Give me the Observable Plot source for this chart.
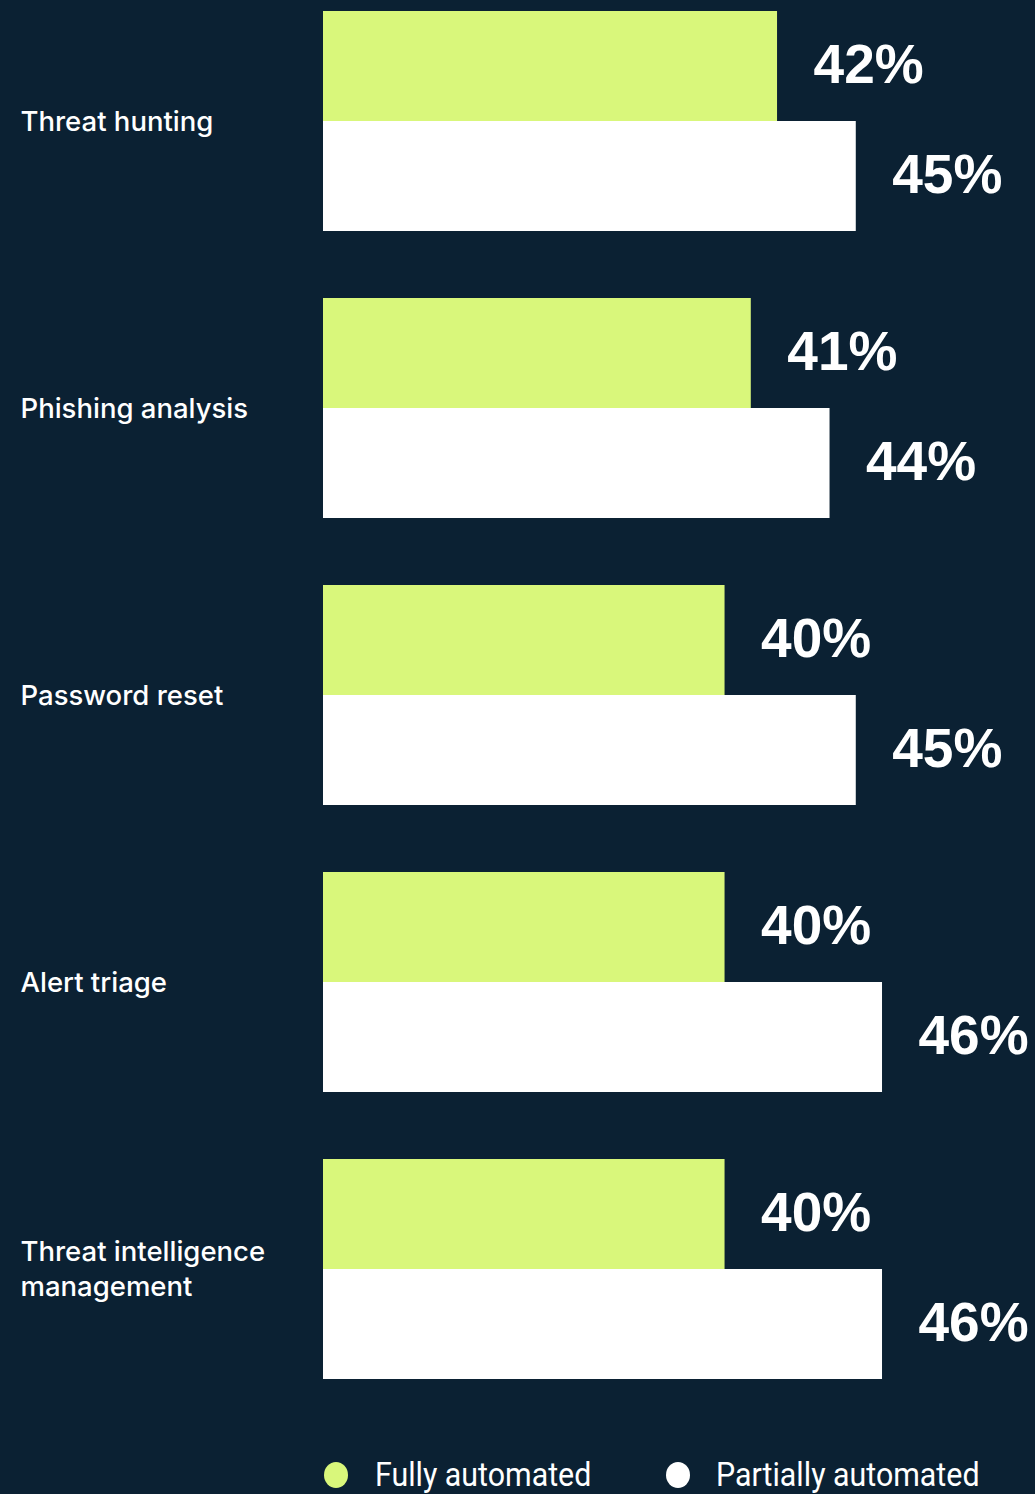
<!DOCTYPE html>
<html>
<head>
<meta charset="utf-8">
<script src="https://cdn.jsdelivr.net/npm/d3@7"></script>
<script src="https://cdn.jsdelivr.net/npm/@observablehq/plot@0.6"></script>
<style>
  html, body { margin: 0; padding: 0; background: #0b2133; }
  #wrap { width: 1035px; position: relative; }
  #legend { position: relative; height: 54px; width: 1035px; overflow: hidden; }
  .sw { position: absolute; width: 24px; height: 26px; border-radius: 50%; top: 22px; }
  .lab { position: absolute; top: 15px; color: #fff; font-family: "Roboto", sans-serif; font-size: 33px; line-height: 40px; white-space: nowrap; transform: scaleX(0.92); transform-origin: left center; }
</style>
</head>
<body>
<div id="wrap"></div>
<script>
const categories = ["Threat hunting", "Phishing analysis", "Password reset", "Alert triage", "Threat intelligence\nmanagement"];
const series = ["Fully automated", "Partially automated"];
const fullyAutomated = [42, 41, 40, 40, 40];
const partiallyAutomated = [45, 44, 45, 46, 46];
const seriesColors = ["#d9f77b", "#ffffff"];

const rows = [];
categories.forEach((c, i) => {
  rows.push({category: c, series: series[0], value: fullyAutomated[i]});
  rows.push({category: c, series: series[1], value: partiallyAutomated[i]});
});

const chart = Plot.plot({
  width: 1035,
  height: 1440,
  marginLeft: 323,
  marginRight: 48,
  marginTop: 10,
  marginBottom: 61,
  style: {background: "#0b2133", color: "#fff", overflow: "visible"},
  x: {domain: [24.7, 50], axis: null},
  fy: {domain: categories, paddingInner: 0.235, paddingOuter: 0, axis: null},
  y: {domain: series, padding: 0, axis: null},
  color: {domain: series, range: seriesColors},
  marks: [
    Plot.barX(rows, {x: "value", y: "series", fy: "category", fill: "series", clip: true}),
    Plot.text(rows, {
      x: "value", y: "series", fy: "category",
      text: d => d.value + "%",
      textAnchor: "start", dx: 36, dy: -1,
      fill: "#fff", fontSize: 55, fontWeight: "bold",
      fontFamily: "Liberation Sans, Arial, sans-serif"
    }),
    Plot.text(categories, {
      fy: d => d,
      text: d => d,
      frameAnchor: "left",
      textAnchor: "start",
      dx: -303,
      dy: -2,
      lineHeight: 1.28,
      fill: "#fff",
      fontSize: 27.5,
      fontWeight: 500,
      fontFamily: "Inter, Noto Sans, sans-serif"
    })
  ]
});

const wrap = document.getElementById("wrap");
wrap.appendChild(chart);

const legend = document.createElement("div");
legend.id = "legend";
const legendX = [[324, 375], [666, 716]];
series.forEach((s, i) => {
  const sw = document.createElement("div");
  sw.className = "sw";
  sw.style.left = legendX[i][0] + "px";
  sw.style.background = seriesColors[i];
  legend.appendChild(sw);
  const lab = document.createElement("div");
  lab.className = "lab";
  lab.style.left = legendX[i][1] + "px";
  lab.textContent = s;
  legend.appendChild(lab);
});
wrap.appendChild(legend);
</script>
</body>
</html>
